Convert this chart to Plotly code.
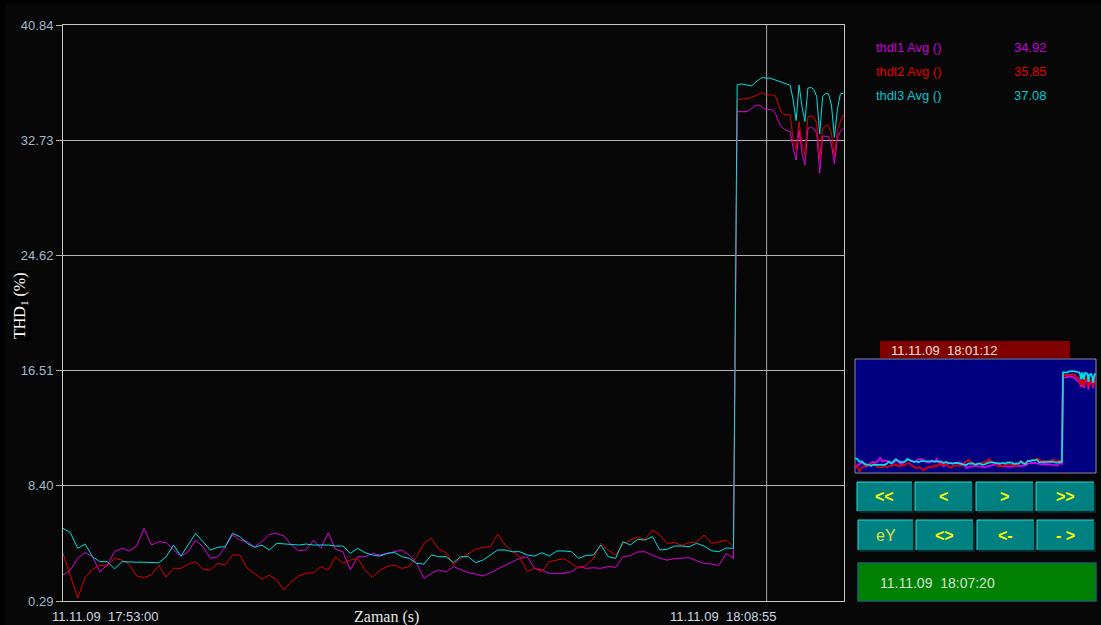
import numpy as np
import plotly.graph_objects as go

W, H = 1101, 625

# THD samples (%): quiet period sampled every 10 s from 17:53:00
thd1_low = [2.12, 2.47, 3.29, 3.71, 3.41, 2.35, 2.82, 3.76, 4.00, 3.81,
             4.16, 5.40, 4.23, 4.47, 4.40, 3.93, 3.45, 3.76, 4.58, 4.11,
             3.29, 3.41, 4.07, 4.94, 4.58, 4.47, 4.11, 4.47, 4.98, 5.05,
             4.86, 4.23, 3.83, 3.88, 4.58, 4.00, 5.10, 3.93, 3.76, 2.47,
             3.41, 3.41, 3.64, 3.53, 3.64, 3.76, 3.88, 3.53, 2.94, 1.88,
             2.24, 2.47, 2.35, 2.71, 2.47, 2.28, 2.19, 2.05, 2.28, 2.56,
             2.82, 3.06, 3.29, 3.41, 2.59, 2.47, 2.24, 2.24, 2.24, 2.35,
             2.71, 2.59, 2.63, 2.59, 2.71, 2.66, 3.41, 3.48, 3.74, 3.76,
             3.53, 3.29, 3.17, 3.27, 3.31, 3.34, 3.13, 2.94, 2.89, 2.80,
             3.64, 3.29]
thd2_low = [3.64, 2.12, 0.50, 1.95, 2.52, 2.80, 2.75, 3.29, 3.17, 2.89,
             2.05, 1.95, 2.12, 2.82, 1.95, 2.59, 2.59, 2.89, 3.06, 2.52,
             2.47, 2.94, 2.82, 3.53, 3.53, 2.59, 2.24, 1.81, 2.12, 1.77,
             1.06, 1.65, 2.05, 2.24, 2.28, 2.71, 2.47, 3.41, 2.94, 3.17,
             3.29, 2.47, 1.95, 2.47, 2.71, 2.82, 2.59, 2.71, 3.41, 4.35,
             4.70, 3.93, 3.69, 2.82, 3.29, 3.60, 3.93, 4.07, 4.11, 5.00,
             4.23, 3.76, 3.41, 2.35, 2.59, 2.35, 3.06, 3.17, 3.27, 2.94,
             2.59, 2.80, 3.29, 4.35, 3.88, 3.53, 4.30, 4.58, 4.79, 4.63,
             5.29, 4.94, 4.35, 4.40, 4.21, 4.40, 4.44, 4.94, 4.35, 4.44,
             4.58, 4.11]
thd3_low = [5.40, 5.10, 4.00, 4.30, 3.41, 3.06, 3.06, 2.55, 3.06, 3.02,
             3.02, 3.02, 3.00, 2.98, 3.40, 4.23, 3.45, 4.23, 5.05, 4.47,
             3.88, 4.07, 4.11, 5.05, 4.82, 4.35, 4.07, 4.23, 3.88, 4.35,
             4.30, 4.30, 4.23, 4.30, 4.23, 4.23, 4.23, 4.16, 4.16, 3.64,
             4.00, 3.69, 3.53, 3.45, 3.64, 3.71, 3.41, 3.29, 2.94, 2.89,
             3.53, 3.41, 3.41, 2.99, 3.41, 3.41, 2.99, 3.17, 3.53, 3.88,
             3.88, 3.76, 3.76, 3.53, 3.45, 3.69, 3.45, 3.81, 3.81, 3.76,
             3.29, 3.50, 3.53, 4.23, 3.41, 3.29, 4.47, 4.23, 4.63, 4.58,
             4.82, 3.88, 3.93, 4.16, 4.16, 4.11, 4.35, 4.16, 3.83, 3.76,
             4.02, 4.00]

# Disturbed period sampled every 4 s from +915 s
thd1_high = [34.74, 34.72, 34.74, 34.74, 34.81, 34.98, 35.14, 35.21, 35.14, 34.95,
             34.92, 34.91, 34.86, 34.62, 34.04, 33.69, 33.50, 33.40, 33.33, 32.16,
             31.34, 33.45, 31.81, 30.99, 33.57, 33.62, 33.57, 33.22, 30.40, 33.03,
             33.03, 32.98, 32.40, 31.06, 32.86, 33.33, 33.57]
thd2_high = [35.56, 35.61, 35.63, 35.66, 35.68, 35.75, 35.85, 35.96, 36.03, 36.03,
             35.85, 35.92, 35.92, 35.85, 35.21, 34.67, 34.55, 34.51, 34.51, 32.75,
             32.09, 34.04, 32.40, 31.69, 34.39, 34.44, 34.39, 33.92, 31.39, 33.57,
             33.73, 33.78, 33.22, 31.62, 33.45, 34.04, 34.51]
thd3_high = [36.62, 36.69, 36.67, 36.64, 36.57, 36.55, 36.78, 36.97, 37.09, 37.16,
             37.08, 37.11, 37.04, 36.97, 36.92, 36.85, 36.78, 36.69, 36.60, 35.56,
             34.11, 36.62, 35.09, 34.04, 36.39, 36.46, 36.31, 35.80, 33.17, 35.80,
             36.03, 35.99, 35.21, 32.93, 34.86, 35.99, 36.03]

series_names = ["thdl1 Avg ()", "thdl2 Avg ()", "thdl3 Avg ()"]
line_colors = ["#e000e0", "#e00000", "#00e0e0"]
text_colors = ["#c800d8", "#e00000", "#00c8d0"]

LOW_STEP = 10          # s
HIGH_START = 915       # s after 17:53:00
HIGH_STEP = 4          # s
X_END = 1060           # s, right edge of the view
CURSOR_T = 955         # cursor at 18:08:55
y_ticks = [0.29, 8.40, 16.51, 24.62, 32.73, 40.84]
x_labels = ["11.11.09\u00a0\u00a017:53:00", "11.11.09\u00a0\u00a018:08:55"]
nav_time = "11.11.09\u00a0\u00a018:01:12"
status_time = "11.11.09\u00a0\u00a018:07:20"
button_rows = [["<<", "<", ">", ">>"], ["eY", "<>", "<-", "- >"]]

SANS = "Arial, Liberation Sans, sans-serif"
SERIF = "Times New Roman, Liberation Serif, serif"


def px(x):
    return x / W


def py(y):
    return 1 - y / H


def times(low, high):
    t_low = np.arange(len(low)) * LOW_STEP
    t_high = HIGH_START + np.arange(len(high)) * HIGH_STEP
    return np.concatenate([t_low, t_high]), np.concatenate([low, high])


lows = [thd1_low, thd2_low, thd3_low]
highs = [thd1_high, thd2_high, thd3_high]

fig = go.Figure()

# main traces
for name, lo, hi, col in zip(series_names, lows, highs, line_colors):
    t, v = times(lo, hi)
    fig.add_trace(go.Scatter(x=t, y=v, mode="lines", name=name,
                             line=dict(color=col, width=1), xaxis="x", yaxis="y",
                             hoverinfo="skip"))

# overview traces
for name, lo, hi, col in zip(series_names, lows, highs, line_colors):
    t, v = times(lo, hi)
    fig.add_trace(go.Scatter(x=t, y=v, mode="lines", name=name,
                             line=dict(color=col, width=1.8), xaxis="x2", yaxis="y2",
                             hoverinfo="skip"))

shapes = []
annotations = []

# window frame: dark panel inset from the black outer edge
shapes.append(dict(type="rect", xref="paper", yref="paper", x0=px(5), x1=1, y0=0, y1=py(3),
                   fillcolor="#070707", line=dict(width=0), layer="below"))

# cursor line
shapes.append(dict(type="line", xref="x", yref="y domain", x0=CURSOR_T, x1=CURSOR_T,
                   y0=0, y1=1, line=dict(color="#a8a8a8", width=1), layer="below"))

# overview panel
shapes.append(dict(type="rect", xref="x2 domain", yref="y2 domain", x0=0, x1=1, y0=0, y1=1,
                   fillcolor="#000080", line=dict(color="#8c8c9c", width=1), layer="below"))
shapes.append(dict(type="rect", xref="paper", yref="paper", x0=px(880), x1=px(1070),
                   y0=py(358), y1=py(341), fillcolor="#800000", line=dict(width=0)))
annotations.append(dict(xref="paper", yref="paper", x=px(889), y=py(350), xanchor="left",
                        yanchor="middle", text=nav_time, showarrow=False,
                        font=dict(family=SANS, size=13, color="#f0e0d8")))

# navigation buttons
row_y = [(482, 511), (520, 550)]
col_x = [[(857, 912), (915, 972), (976, 1033), (1036, 1094)],
         [(858, 913), (916, 973), (977, 1034), (1037, 1094)]]
for r, labels in enumerate(button_rows):
    y0, y1 = row_y[r]
    for c, lab in enumerate(labels):
        x0, x1 = col_x[r][c]
        shapes.append(dict(type="rect", xref="paper", yref="paper", x0=px(x0 + 2), x1=px(x1 + 2),
                           y0=py(y1 + 2), y1=py(y0 + 2), fillcolor="#002a2a", line=dict(width=0)))
        shapes.append(dict(type="rect", xref="paper", yref="paper", x0=px(x0), x1=px(x1),
                           y0=py(y1), y1=py(y0), fillcolor="#008080", line=dict(width=0)))
        shapes.append(dict(type="path", xref="paper", yref="paper",
                           path=f"M {px(x0)},{py(y1)} L {px(x0)},{py(y0)} L {px(x1)},{py(y0)}",
                           line=dict(color="#30d8d8", width=1)))
        bold = lab != "eY"
        annotations.append(dict(xref="paper", yref="paper", x=px((x0 + x1) / 2), y=py((y0 + y1) / 2),
                                text=f"<b>{lab}</b>" if bold else lab, showarrow=False,
                                xanchor="center", yanchor="middle",
                                font=dict(family=SANS, size=16 if bold else 16,
                                          color="#ffff00" if bold else "#e0e040")))

# status box
shapes.append(dict(type="rect", xref="paper", yref="paper", x0=px(858), x1=px(1096),
                   y0=py(601), y1=py(563), fillcolor="#008000", line=dict(color="#106868", width=1.5)))
annotations.append(dict(xref="paper", yref="paper", x=px(878), y=py(583), xanchor="left",
                        yanchor="middle", text=status_time, showarrow=False,
                        font=dict(family=SANS, size=14, color="#d4e4d4")))

# legend with values at cursor
cursor_idx = (CURSOR_T - HIGH_START) // HIGH_STEP
for i, (name, hi, tc) in enumerate(zip(series_names, highs, text_colors)):
    yy = 47 + 24 * i
    annotations.append(dict(xref="paper", yref="paper", x=px(874), y=py(yy), xanchor="left",
                            yanchor="middle", text=name, showarrow=False,
                            font=dict(family=SANS, size=13, color=tc)))
    annotations.append(dict(xref="paper", yref="paper", x=px(1049), y=py(yy), xanchor="right",
                            yanchor="middle", text=f"{hi[cursor_idx]:.2f}", showarrow=False,
                            font=dict(family=SANS, size=13, color=tc)))

# axis titles and time labels
annotations.append(dict(xref="paper", yref="paper", x=px(20), y=py(306), textangle=-90,
                        text="THD<sub>1</sub> (%)", showarrow=False, xanchor="center", yanchor="middle",
                        bgcolor="#000000",
                        font=dict(family=SERIF, size=16, color="#ffffff")))
annotations.append(dict(xref="paper", yref="paper", x=px(386), y=py(617),
                        text="Zaman (s)", showarrow=False, xanchor="center", yanchor="middle",
                        font=dict(family=SERIF, size=16, color="#e8e8e8")))
annotations.append(dict(xref="paper", yref="paper", x=px(50), y=py(616), xanchor="left",
                        yanchor="middle", text=x_labels[0], showarrow=False,
                        font=dict(family=SANS, size=13, color="#d0d8e4")))
annotations.append(dict(xref="paper", yref="paper", x=px(723), y=py(616), xanchor="center",
                        yanchor="middle", text=x_labels[1], showarrow=False,
                        font=dict(family=SANS, size=13, color="#d0d8e4")))

fig.update_layout(
    width=W, height=H,
    margin=dict(l=0, r=0, t=0, b=0),
    template="none",
    paper_bgcolor="#000000",
    plot_bgcolor="#070707",
    showlegend=False,
    shapes=shapes,
    annotations=annotations,
    xaxis=dict(domain=[px(63), px(844)], range=[0, X_END], anchor="y",
               showgrid=False, zeroline=False, showticklabels=False, ticks="",
               showline=True, linecolor="#c8c8c8", linewidth=1, mirror=True, automargin=False),
    yaxis=dict(domain=[py(601), py(25)], range=[y_ticks[0], y_ticks[-1]], anchor="x",
               tickvals=y_ticks, ticktext=[f"{v:.2f}" for v in y_ticks],
               tickfont=dict(family=SANS, size=13, color="#a4b8cc"),
               showgrid=True, gridcolor="#b4b4b4", gridwidth=1, zeroline=False,
               ticks="outside", ticklen=6, tickcolor="#b4b4b4",
               showline=True, linecolor="#c8c8c8", linewidth=1, mirror=True, automargin=False),
    xaxis2=dict(domain=[px(855), px(1096)], range=[0, X_END], anchor="y2", visible=False),
    yaxis2=dict(domain=[py(473), py(359)], range=[0, 41.5], anchor="x2", visible=False),
)

fig.write_html("out.html")
